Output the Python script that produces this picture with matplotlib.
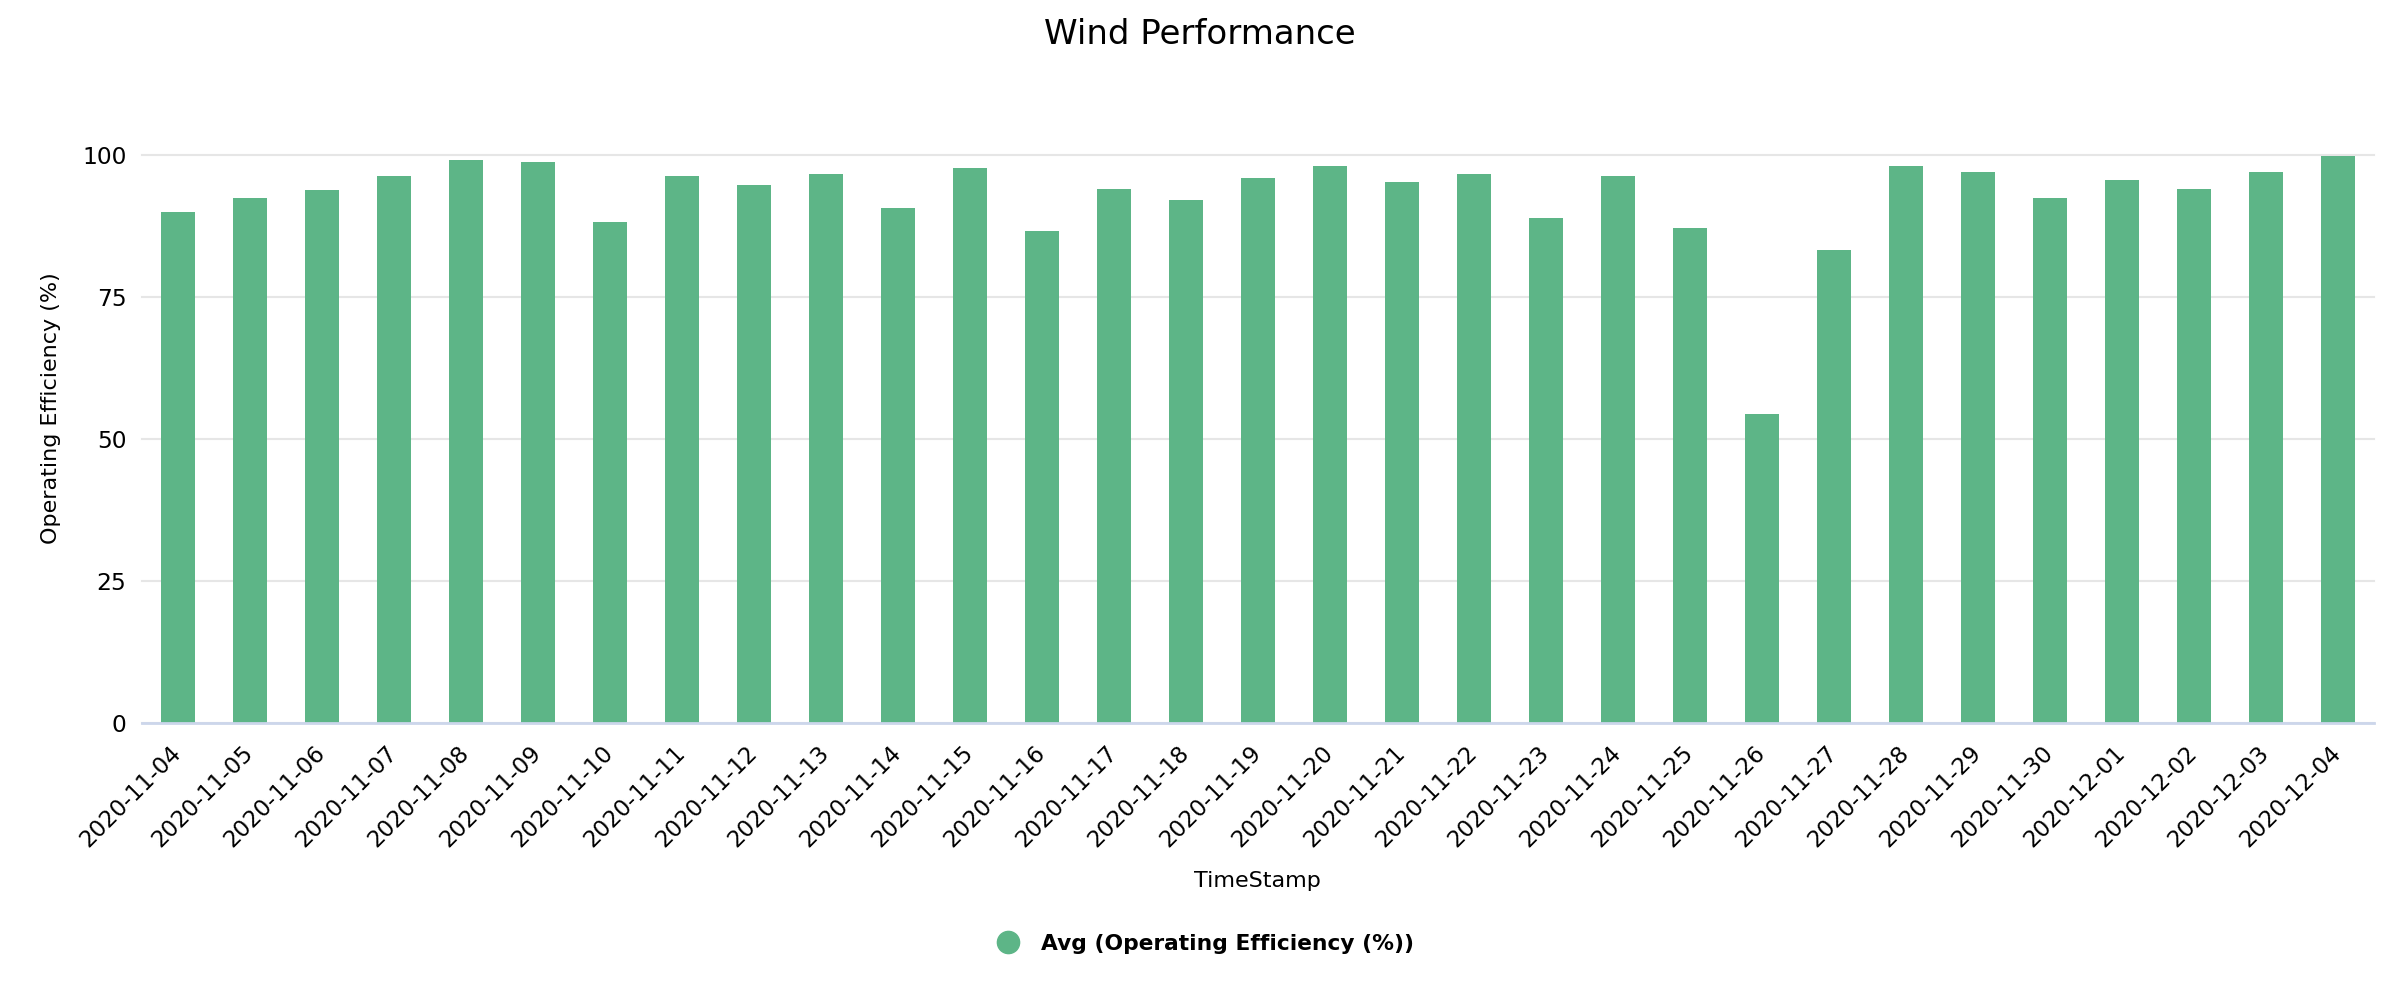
import numpy as np
import matplotlib
matplotlib.use("Agg")
import matplotlib.pyplot as plt
from matplotlib.lines import Line2D

dates = ['2020-11-04', '2020-11-05', '2020-11-06', '2020-11-07', '2020-11-08', '2020-11-09',
         '2020-11-10', '2020-11-11', '2020-11-12', '2020-11-13', '2020-11-14', '2020-11-15',
         '2020-11-16', '2020-11-17', '2020-11-18', '2020-11-19', '2020-11-20', '2020-11-21',
         '2020-11-22', '2020-11-23', '2020-11-24', '2020-11-25', '2020-11-26', '2020-11-27',
         '2020-11-28', '2020-11-29', '2020-11-30', '2020-12-01', '2020-12-02', '2020-12-03',
         '2020-12-04']
efficiency = [89.9, 92.4, 93.8, 96.3, 99.1, 98.7, 88.2, 96.3, 94.8, 96.6, 90.6, 97.7,
              86.7, 94.1, 92.0, 95.9, 98.0, 95.2, 96.6, 88.9, 96.3, 87.1, 54.4, 83.2,
              98.0, 97.0, 92.4, 95.6, 94.1, 97.0, 99.8]
yticks = [0, 25, 50, 75, 100]

green = '#5db587'

fig = plt.figure(figsize=(24, 10), dpi=100)
ax = fig.add_axes([0.059, 0.277, 0.93, 0.568])

x = np.arange(len(dates))
ax.bar(x, efficiency, width=0.47, color=green, zorder=3)

ax.set_xlim(-0.5, len(dates) - 0.5)
ax.set_ylim(0, 100)
ax.set_yticks(yticks)
ax.set_xticks(x)
ax.set_xticklabels(dates, rotation=45, ha='right', va='center',
                   rotation_mode='anchor', fontsize=16.5)
ax.tick_params(axis='y', length=0, pad=11, labelsize=16.8)
ax.tick_params(axis='x', length=0, pad=19)

ax.grid(axis='y', color='#e6e6e6', linewidth=1.5, zorder=0)
for gl in ax.get_ygridlines():
    gl.set_clip_on(False)
for s in ['top', 'right', 'left']:
    ax.spines[s].set_visible(False)
ax.spines['bottom'].set_color('#ccd6eb')
ax.spines['bottom'].set_linewidth(2)
ax.spines['bottom'].set_zorder(4)

ax.set_ylabel('Operating Efficiency (%)', fontsize=16)
ax.yaxis.set_label_coords(-0.036, 0.555)
ax.set_xlabel('TimeStamp', fontsize=16)
ax.xaxis.set_label_coords(0.5, -0.26)

fig.text(0.5, 0.966, 'Wind Performance', ha='center', va='center', fontsize=24.5)

handle = Line2D([], [], marker='o', linestyle='none', markersize=16,
                markerfacecolor=green, markeredgecolor=green)
fig.legend([handle], ['Avg (Operating Efficiency (%))'], loc='center',
           bbox_to_anchor=(0.5, 0.056), frameon=False, handletextpad=0.5,
           prop={'weight': 'bold', 'size': 15.7})

fig.savefig('out.png', dpi=100)
